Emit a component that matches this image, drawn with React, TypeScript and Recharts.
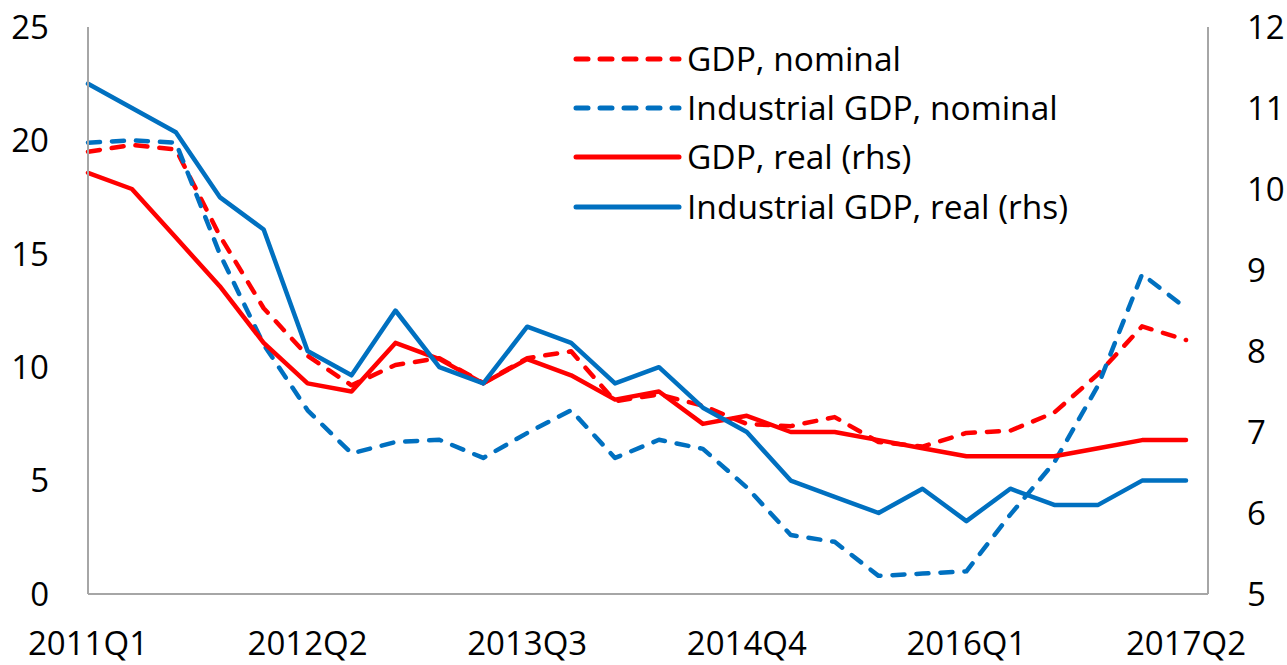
import React from "react";
import { LineChart, Line, XAxis, YAxis, Legend } from "recharts";

const quarters = [
  "2011Q1", "2011Q2", "2011Q3", "2011Q4",
  "2012Q1", "2012Q2", "2012Q3", "2012Q4",
  "2013Q1", "2013Q2", "2013Q3", "2013Q4",
  "2014Q1", "2014Q2", "2014Q3", "2014Q4",
  "2015Q1", "2015Q2", "2015Q3", "2015Q4",
  "2016Q1", "2016Q2", "2016Q3", "2016Q4",
  "2017Q1", "2017Q2",
];
const gdpNominal = [19.5, 19.8, 19.6, 15.8, 12.6, 10.5, 9.2, 10.1, 10.4, 9.3, 10.4, 10.7, 8.5, 8.8, 8.3, 7.5, 7.4, 7.8, 6.7, 6.5, 7.1, 7.2, 8.0, 9.7, 11.8, 11.2];
const indNominal = [19.9, 20.0, 19.9, 15.0, 11.0, 8.1, 6.2, 6.7, 6.8, 6.0, 7.1, 8.1, 6.0, 6.8, 6.4, 4.7, 2.6, 2.3, 0.8, 0.9, 1.0, 3.5, 5.8, 9.2, 14.1, 12.6];
const gdpReal = [10.2, 10.0, 9.4, 8.8, 8.1, 7.6, 7.5, 8.1, 7.9, 7.6, 7.9, 7.7, 7.4, 7.5, 7.1, 7.2, 7.0, 7.0, 6.9, 6.8, 6.7, 6.7, 6.7, 6.8, 6.9, 6.9];
const indReal = [11.3, 11.0, 10.7, 9.9, 9.5, 8.0, 7.7, 8.5, 7.8, 7.6, 8.3, 8.1, 7.6, 7.8, 7.3, 7.0, 6.4, 6.2, 6.0, 6.3, 5.9, 6.3, 6.1, 6.1, 6.4, 6.4];

const leftTicks = [0, 5, 10, 15, 20, 25];
const rightTicks = [5, 6, 7, 8, 9, 10, 11, 12];

const data = quarters.map((q, i) => ({
  q,
  gdpNominal: gdpNominal[i],
  indNominal: indNominal[i],
  gdpReal: gdpReal[i],
  indReal: indReal[i],
}));

const RED = "#FF0000";
const BLUE = "#0070C0";
const FRAME = "#A6A6A6";
const FONT = "'Open Sans', 'Noto Sans', sans-serif";

const legendItems = [
  { label: "GDP, nominal", color: RED, dashed: true },
  { label: "Industrial GDP, nominal", color: BLUE, dashed: true },
  { label: "GDP, real (rhs)", color: RED, dashed: false },
  { label: "Industrial GDP, real (rhs)", color: BLUE, dashed: false },
];

function ChartLegend() {
  return (
    <div style={{ fontFamily: FONT, fontSize: 33.5, color: "#000", lineHeight: 1 }}>
      {legendItems.map((it) => (
        <div key={it.label} style={{ display: "flex", alignItems: "center", height: 49.3 }}>
          <svg width={110} height={12} style={{ marginRight: 4 }}>
            <line
              x1={3}
              y1={6}
              x2={106}
              y2={6}
              stroke={it.color}
              strokeWidth={5}
              strokeLinecap="round"
              strokeDasharray={it.dashed ? "12 12" : undefined}
            />
          </svg>
          <span style={{ whiteSpace: "nowrap" }}>{it.label}</span>
        </div>
      ))}
    </div>
  );
}

const tickStyle = { fill: "#000", fontSize: 33, fontFamily: FONT };
const axisLine = { stroke: FRAME, strokeWidth: 2 };

export default function App() {
  return (
    <div style={{ position: "fixed", top: 0, left: 0, background: "#fff", width: 1287, height: 665 }}>
      <LineChart
        width={1287}
        height={665}
        data={data}
        margin={{ top: 27, right: 0, bottom: 0, left: 0 }}
      >
        <XAxis
          dataKey="q"
          interval={4}
          height={71}
          padding={{ left: 0, right: 22 }}
          axisLine={axisLine}
          tickLine={false}
          tickSize={0}
          tickMargin={38}
          tick={tickStyle}
        />
        <XAxis
          xAxisId="top"
          dataKey="q"
          orientation="top"
          height={0}
          padding={{ left: 0, right: 22 }}
          axisLine={axisLine}
          tickLine={false}
          tick={false}
        />
        <YAxis
          yAxisId="left"
          width={88}
          domain={[0, 25]}
          ticks={leftTicks}
          axisLine={axisLine}
          tickLine={false}
          tickSize={0}
          tickMargin={39}
          tick={tickStyle}
        />
        <YAxis
          yAxisId="right"
          orientation="right"
          width={79}
          domain={[5, 12]}
          ticks={rightTicks}
          axisLine={axisLine}
          tickLine={false}
          tickSize={0}
          tickMargin={39}
          tick={{ ...tickStyle, textAnchor: "start" }}
        />
        <Legend
          layout="vertical"
          align="center"
          verticalAlign="middle"
          content={() => <ChartLegend />}
          wrapperStyle={{ top: 34, left: 573, width: "auto" }}
        />
        <Line
          yAxisId="left"
          dataKey="gdpNominal"
          name="GDP, nominal"
          stroke={RED}
          strokeWidth={4.5}
          strokeDasharray="12 12"
          strokeLinecap="round"
          strokeLinejoin="round"
          dot={false}
          isAnimationActive={false}
        />
        <Line
          yAxisId="left"
          dataKey="indNominal"
          name="Industrial GDP, nominal"
          stroke={BLUE}
          strokeWidth={4.5}
          strokeDasharray="12 12"
          strokeLinecap="round"
          strokeLinejoin="round"
          dot={false}
          isAnimationActive={false}
        />
        <Line
          yAxisId="right"
          dataKey="gdpReal"
          name="GDP, real (rhs)"
          stroke={RED}
          strokeWidth={4.5}
          strokeLinecap="round"
          strokeLinejoin="round"
          dot={false}
          isAnimationActive={false}
        />
        <Line
          yAxisId="right"
          dataKey="indReal"
          name="Industrial GDP, real (rhs)"
          stroke={BLUE}
          strokeWidth={4.5}
          strokeLinecap="round"
          strokeLinejoin="round"
          dot={false}
          isAnimationActive={false}
        />
      </LineChart>
    </div>
  );
}
